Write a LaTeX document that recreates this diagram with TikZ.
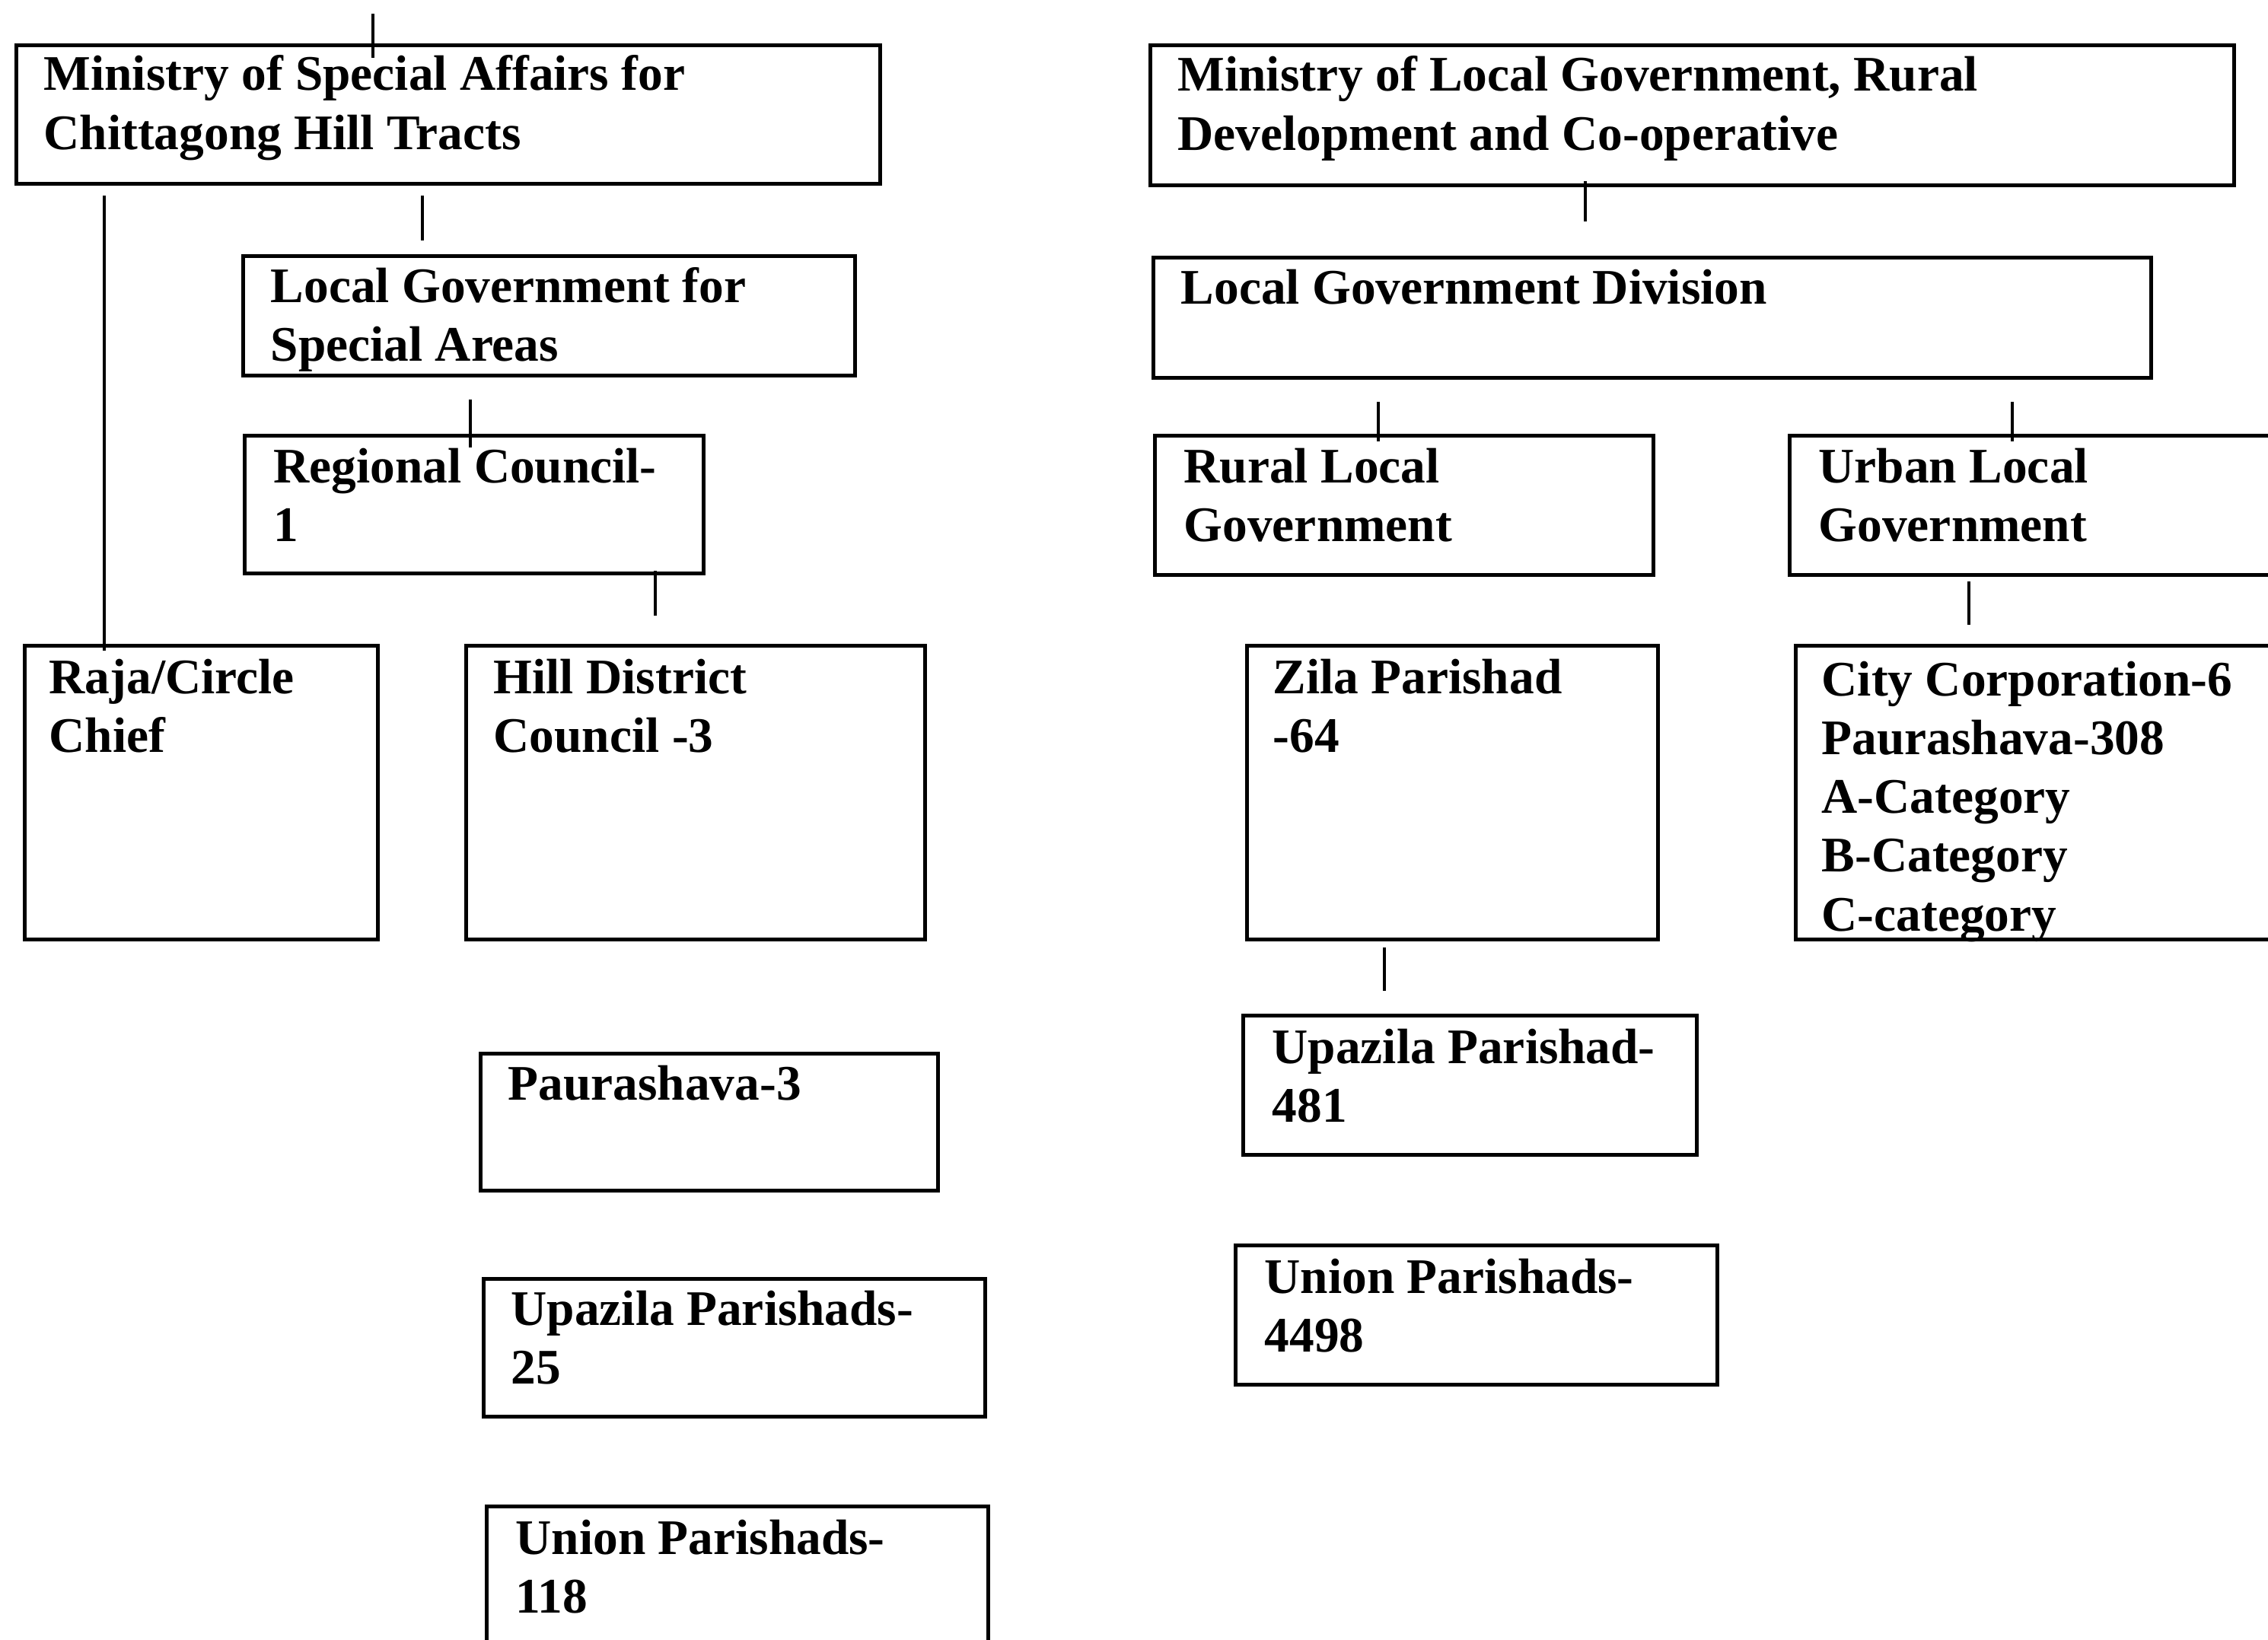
\documentclass[tikz,border=0pt]{standalone}
\usepackage{fontspec}
\setmainfont{Liberation Serif}
\newcommand{\lines}[1]{\begin{tabular}[t]{@{}l@{}}#1\end{tabular}}
\tikzset{
  unit/.style={draw, line width=1.4pt, anchor=north west, inner sep=0pt},
  txt/.style={anchor=base west, inner sep=0pt, font=\bfseries\fontsize{18.6}{22}\selectfont},
  tick/.style={line width=1.2pt}
}

\begin{document}
\begin{tikzpicture}
\useasboundingbox (0,0) rectangle (29.8,-21.54);
\clip (0,0) rectangle (29.8,-21.54);
\node[unit, minimum width=11.35cm, minimum height=1.82cm] (msa) at (0.19,-0.57) {};
\node[unit, minimum width=14.24cm, minimum height=1.84cm] (mlg) at (15.09,-0.57) {};
\node[unit, minimum width=8.04cm, minimum height=1.57cm] (lgsa) at (3.17,-3.34) {};
\node[unit, minimum width=13.11cm, minimum height=1.58cm] (lgd) at (15.13,-3.36) {};
\node[unit, minimum width=6.03cm, minimum height=1.81cm] (rc) at (3.19,-5.70) {};
\node[unit, minimum width=6.55cm, minimum height=1.83cm] (rlg) at (15.15,-5.70) {};
\node[unit, minimum width=6.71cm, minimum height=1.83cm] (ulg) at (23.49,-5.70) {};
\node[unit, minimum width=4.64cm, minimum height=3.86cm] (raja) at (0.30,-8.46) {};
\node[unit, minimum width=6.03cm, minimum height=3.86cm] (hdc) at (6.10,-8.46) {};
\node[unit, minimum width=5.40cm, minimum height=3.86cm] (zp) at (16.36,-8.46) {};
\node[unit, minimum width=6.63cm, minimum height=3.86cm] (cc) at (23.57,-8.46) {};
\node[unit, minimum width=5.96cm, minimum height=1.83cm] (upz) at (16.31,-13.32) {};
\node[unit, minimum width=6.01cm, minimum height=1.80cm] (pau) at (6.29,-13.82) {};
\node[unit, minimum width=6.33cm, minimum height=1.83cm] (unp) at (16.21,-16.34) {};
\node[unit, minimum width=6.59cm, minimum height=1.81cm] (upzs) at (6.33,-16.78) {};
\node[unit, minimum width=6.59cm, minimum height=2.20cm] (unps) at (6.37,-19.77) {};

\node[txt] (msa-t) at ([shift={(0.38,-0.62)}]msa.north west) {\lines{Ministry of Special Affairs for\\Chittagong Hill Tracts}};
\node[txt] (mlg-t) at ([shift={(0.38,-0.63)}]mlg.north west) {\lines{Ministry of Local Government, Rural\\Development and Co-operative}};
\node[txt] (lgsa-t) at ([shift={(0.38,-0.63)}]lgsa.north west) {\lines{Local Government for\\Special Areas}};
\node[txt] (lgd-t) at ([shift={(0.38,-0.64)}]lgd.north west) {Local Government Division};
\node[txt] (rc-t) at ([shift={(0.40,-0.64)}]rc.north west) {\lines{Regional Council-\\1}};
\node[txt] (rlg-t) at ([shift={(0.40,-0.64)}]rlg.north west) {\lines{Rural Local\\Government}};
\node[txt] (ulg-t) at ([shift={(0.40,-0.64)}]ulg.north west) {\lines{Urban Local\\Government}};
\node[txt] (raja-t) at ([shift={(0.34,-0.65)}]raja.north west) {\lines{Raja/Circle\\Chief}};
\node[txt] (hdc-t) at ([shift={(0.38,-0.65)}]hdc.north west) {\lines{Hill District\\Council -3}};
\node[txt] (zp-t) at ([shift={(0.36,-0.65)}]zp.north west) {\lines{Zila Parishad\\-64}};
\node[txt] (cc-t) at ([shift={(0.36,-0.68)}]cc.north west) {\lines{City Corporation-6\\Paurashava-308\\A-Category\\B-Category\\C-category}};
\node[txt] (upz-t) at ([shift={(0.40,-0.65)}]upz.north west) {\lines{Upazila Parishad-\\481}};
\node[txt] (pau-t) at ([shift={(0.38,-0.63)}]pau.north west) {Paurashava-3};
\node[txt] (unp-t) at ([shift={(0.40,-0.65)}]unp.north west) {\lines{Union Parishads-\\4498}};
\node[txt] (upzs-t) at ([shift={(0.38,-0.63)}]upzs.north west) {\lines{Upazila Parishads-\\25}};
\node[txt] (unps-t) at ([shift={(0.40,-0.65)}]unps.north west) {\lines{Union Parishads-\\118}};

\draw[tick] ([shift={(4.71,0.39)}]msa.north west) -- ++(0,-0.58);
\draw[tick] ([shift={(1.07,-0.09)}]raja.north west) -- ++(0,5.98);
\draw[tick] ([shift={(2.38,0.77)}]lgsa.north west) -- ++(0,-0.59);
\draw[tick] ([shift={(2.99,0.45)}]rc.north west) -- ++(0,-0.63);
\draw[tick] ([shift={(2.51,0.96)}]hdc.north west) -- ++(0,-0.59);
\draw[tick] ([shift={(5.74,0.08)}]mlg.south west) -- ++(0,-0.53);
\draw[tick] ([shift={(2.96,0.42)}]rlg.north west) -- ++(0,-0.52);
\draw[tick] ([shift={(2.95,0.42)}]ulg.north west) -- ++(0,-0.52);
\draw[tick] ([shift={(2.30,0.82)}]cc.north west) -- ++(0,-0.57);
\draw[tick] ([shift={(1.88,0.87)}]upz.north west) -- ++(0,-0.57);
\end{tikzpicture}
\end{document}
